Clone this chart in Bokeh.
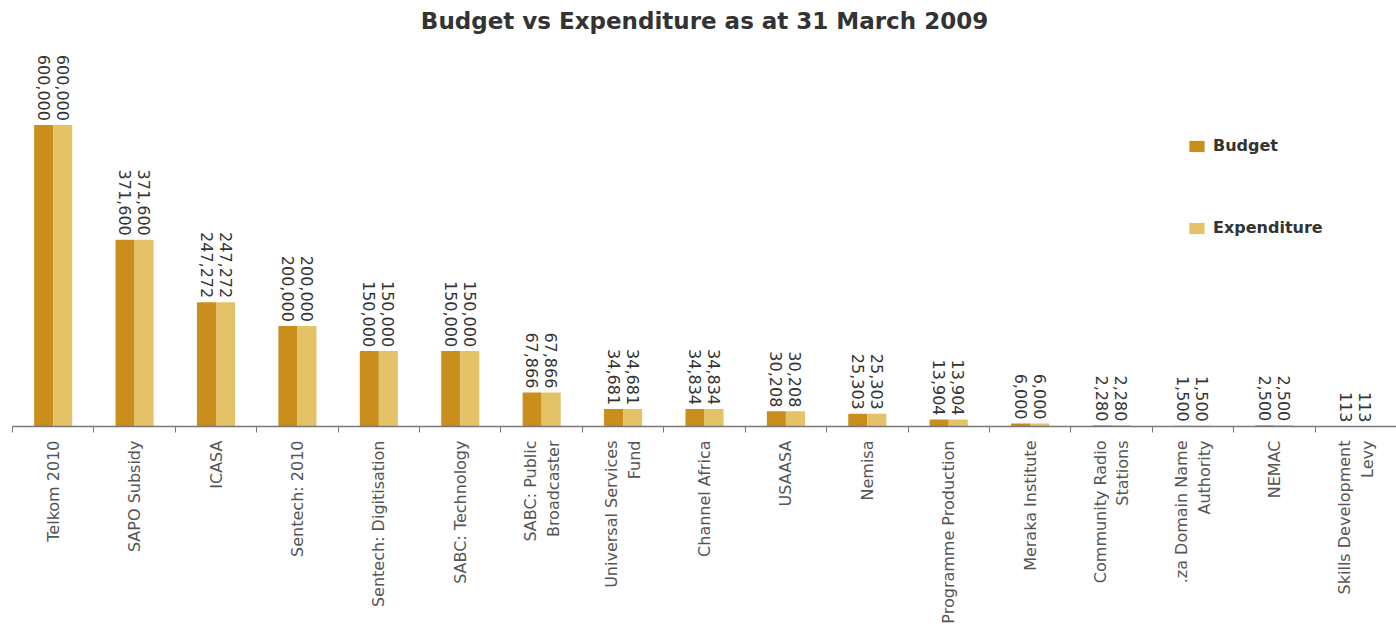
from math import pi
from bokeh.plotting import figure
from bokeh.models import Range1d, FixedTicker, ColumnDataSource, Legend, LegendItem
from bokeh.core.properties import value
from bokeh.embed import file_html
from bokeh.resources import INLINE

categories = [
    "Telkom 2010", "SAPO Subsidy", "ICASA", "Sentech: 2010",
    "Sentech: Digitisation", "SABC: Technology", "SABC: Public\nBroadcaster",
    "Universal Services\nFund", "Channel Africa", "USAASA", "Nemisa",
    "Programme Production", "Meraka Institute", "Community Radio\nStations",
    ".za Domain Name\nAuthority", "NEMAC", "Skills Development\nLevy",
]
budget = [600000, 371600, 247272, 200000, 150000, 150000, 67866, 34681,
          34834, 30208, 25303, 13904, 6000, 2280, 1500, 2500, 113]
expenditure = [600000, 371600, 247272, 200000, 150000, 150000, 67866, 34681,
               34834, 30208, 25303, 13904, 6000, 2280, 1500, 2500, 113]

BUDGET_COLOR = "#C98E1B"
EXP_COLOR = "#E4C268"

pos = list(range(1, len(categories) + 1))
bw = 0.234
src = ColumnDataSource(dict(
    xb=[x - bw / 2 for x in pos],
    xe=[x + bw / 2 for x in pos],
    b=budget, e=expenditure,
    bl=[f"{v:,}" for v in budget],
    el=[f"{v:,}" for v in expenditure],
))

p = figure(width=1396, height=632, output_backend="svg", toolbar_location=None,
           x_range=Range1d(0.5, len(categories) + 0.5), y_range=Range1d(0, 772000),
           y_axis_location=None, min_border_left=12, min_border_right=0,
           min_border_bottom=206, min_border_top=10)
p.title.text = "Budget vs Expenditure as at 31 March 2009"
p.title.align = "center"
p.title.text_font = "DejaVu Sans"
p.title.text_font_style = "bold"
p.title.text_font_size = "23px"
p.title.text_color = "#333333"
p.outline_line_color = None
p.grid.visible = False

rb = p.vbar(x="xb", top="b", width=bw, bottom=0, source=src,
            fill_color=BUDGET_COLOR, line_color=None)
re_ = p.vbar(x="xe", top="e", width=bw, bottom=0, source=src,
             fill_color=EXP_COLOR, line_color=None)

for col, xcol, ycol in (("bl", "xb", "b"), ("el", "xe", "e")):
    p.text(x=xcol, y=ycol, text=col, source=src, angle=-pi / 2,
           text_align="right", text_baseline="middle", y_offset=-4,
           text_font_size="16px", text_color="#333333",
           text_font=value("DejaVu Sans"))

ax = p.xaxis[0]
ax.ticker = FixedTicker(ticks=pos, minor_ticks=[x + 0.5 for x in range(0, len(categories) + 1)])
ax.major_label_overrides = {x: c for x, c in zip(pos, categories)}
ax.major_label_orientation = pi / 2
ax.major_label_text_font = "DejaVu Sans"
ax.major_label_text_font_size = "16px"
ax.major_label_text_color = "#555555"
ax.major_label_standoff = 8
ax.axis_line_color = "#777777"
ax.axis_line_width = 1.5
ax.major_tick_out = 0
ax.major_tick_in = 0
ax.minor_tick_out = 6
ax.minor_tick_in = 0
ax.minor_tick_line_color = "#777777"

legend = Legend(items=[LegendItem(label="Budget", renderers=[rb]),
                       LegendItem(label="Expenditure", renderers=[re_])],
                location=(1175, 189), orientation="vertical")
legend.glyph_width = 19
legend.glyph_height = 14
legend.label_text_font = "DejaVu Sans"
legend.label_text_font_style = "bold"
legend.label_text_font_size = "16px"
legend.label_text_color = "#333333"
legend.spacing = 63
legend.padding = 0
legend.margin = 0
legend.border_line_color = None
legend.background_fill_alpha = 0
legend.label_standoff = 7
p.add_layout(legend, "center")

open("out.html", "w").write(file_html(p, INLINE))
